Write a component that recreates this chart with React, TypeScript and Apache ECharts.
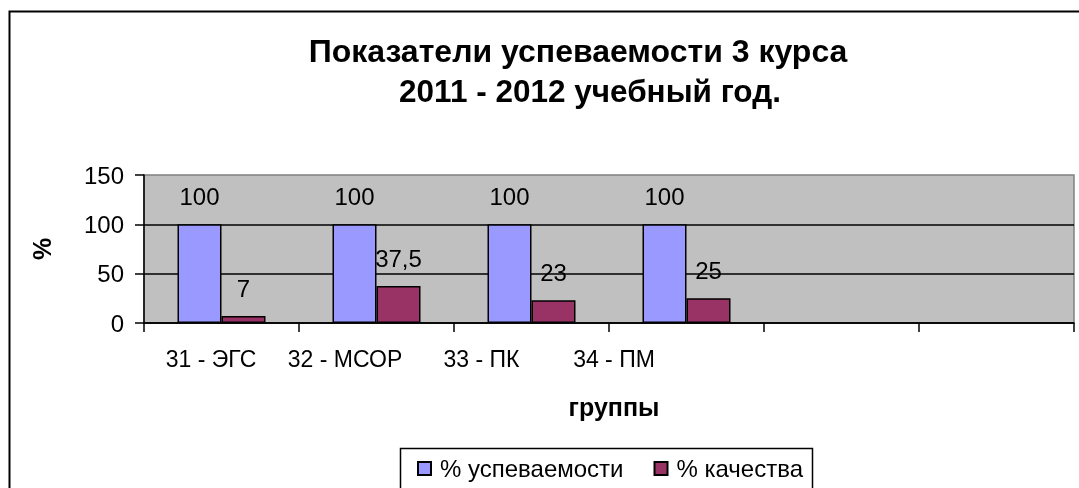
import React, { useEffect, useRef } from 'react';
import * as echarts from 'echarts';

const categories = ['31 - ЭГС', '32 - МСОР', '33 - ПК', '34 - ПМ', '', ''];
const successRate = [100, 100, 100, 100];
const qualityRate = [7, 37.5, 23, 25];
const seriesNames = ['% успеваемости', '% качества'];
const titleLines = ['Показатели успеваемости 3 курса', '2011 - 2012 учебный год.'];
const xAxisTitle = 'группы';
const yAxisTitle = '%';
const yMin = 0;
const yMax = 150;
const yInterval = 50;

const FONT = '"Liberation Sans", Arial, sans-serif';

export default function App() {
  const ref = useRef<HTMLDivElement>(null);

  useEffect(() => {
    if (!ref.current) return;
    const chart = echarts.init(ref.current, undefined, { renderer: 'svg' });
    const labelShift = [21, 63, 100, 145, 0, 0];
    const rich: Record<string, any> = {};
    labelShift.forEach((s, i) => {
      rich['s' + i] = { padding: [0, s, 0, 0], fontSize: 23, fontFamily: FONT, color: '#000' };
    });
    const fmt = (p: any) => String(p.value).replace('.', ',');
    const option: any = {
      animation: false,
      textStyle: { fontFamily: FONT },
      grid: {
        left: 144,
        top: 175,
        right: 5,
        bottom: 165,
        show: true,
        backgroundColor: '#C0C0C0',
        borderColor: '#808080',
        borderWidth: 1.5,
      },
      legend: {
        data: seriesNames,
        left: 417,
        top: 456,
        padding: 0,
        itemWidth: 13,
        itemHeight: 13,
        itemGap: 30,
        icon: 'rect',
        textStyle: { fontSize: 24, color: '#000', fontFamily: FONT, padding: [0, 0, 0, 4], lineHeight: 25 },
      },
      xAxis: {
        type: 'category',
        data: categories,
        axisLine: { lineStyle: { color: '#000', width: 1.5 } },
        axisTick: { show: true, length: 9, lineStyle: { color: '#000', width: 1.5 } },
        axisLabel: {
          interval: 0,
          margin: 24,
          fontSize: 23,
          color: '#000',
          formatter: (v: string, i: number) => (v ? `{s${i}|${v}}` : ''),
          rich,
        },
      },
      yAxis: {
        type: 'value',
        min: yMin,
        max: yMax,
        interval: yInterval,
        axisLine: { show: true, lineStyle: { color: '#000', width: 1.5 } },
        axisTick: { show: true, length: 9, lineStyle: { color: '#000', width: 1.5 } },
        axisLabel: { fontSize: 24, color: '#000', margin: 20 },
        splitLine: { show: true, showMaxLine: false, lineStyle: { color: '#000', width: 1.5 } },
      },
      series: [
        {
          type: 'bar',
          name: seriesNames[0],
          data: successRate,
          barWidth: 44,
          barGap: '0%',
          itemStyle: { color: '#9999FF', borderColor: '#000', borderWidth: 1.5 },
          label: { show: true, position: 'top', distance: 16, fontSize: 24, color: '#000', fontFamily: FONT, formatter: fmt },
        },
        {
          type: 'bar',
          name: seriesNames[1],
          data: qualityRate,
          barWidth: 44,
          barGap: '0%',
          itemStyle: { color: '#993366', borderColor: '#000', borderWidth: 1.5 },
          label: { show: true, position: 'top', distance: 16, fontSize: 24, color: '#000', fontFamily: FONT, formatter: fmt },
        },
      ],
      graphic: [
        {
          type: 'rect',
          shape: { x: 9.5, y: 11.5, width: 1200, height: 600 },
          style: { fill: 'none', stroke: '#000', lineWidth: 2 },
          silent: true,
        },
        {
          type: 'rect',
          shape: { x: 400.5, y: 448.5, width: 412, height: 100 },
          style: { fill: 'none', stroke: '#000', lineWidth: 1.5 },
          silent: true,
        },
        {
          type: 'text',
          x: 578,
          y: 51,
          style: { text: titleLines[0], fontSize: 32, fontWeight: 'bold', fontFamily: FONT, fill: '#000', align: 'center', verticalAlign: 'middle' },
        },
        {
          type: 'text',
          x: 590,
          y: 91,
          style: { text: titleLines[1], fontSize: 31.5, fontWeight: 'bold', fontFamily: FONT, fill: '#000', align: 'center', verticalAlign: 'middle' },
        },
        {
          type: 'text',
          x: 614,
          y: 407,
          style: { text: xAxisTitle, fontSize: 25, fontWeight: 'bold', fontFamily: FONT, fill: '#000', align: 'center', verticalAlign: 'middle' },
        },
        {
          type: 'text',
          x: 42,
          y: 249,
          rotation: Math.PI / 2,
          style: { text: yAxisTitle, fontSize: 25, fontWeight: 'bold', fontFamily: FONT, fill: '#000', align: 'center', verticalAlign: 'middle' },
        },
      ],
    };
    chart.setOption(option);
    return () => chart.dispose();
  }, []);

  return <div ref={ref} style={{ position: 'fixed', left: 0, top: 0, width: 1079, height: 488 }} />;
}
